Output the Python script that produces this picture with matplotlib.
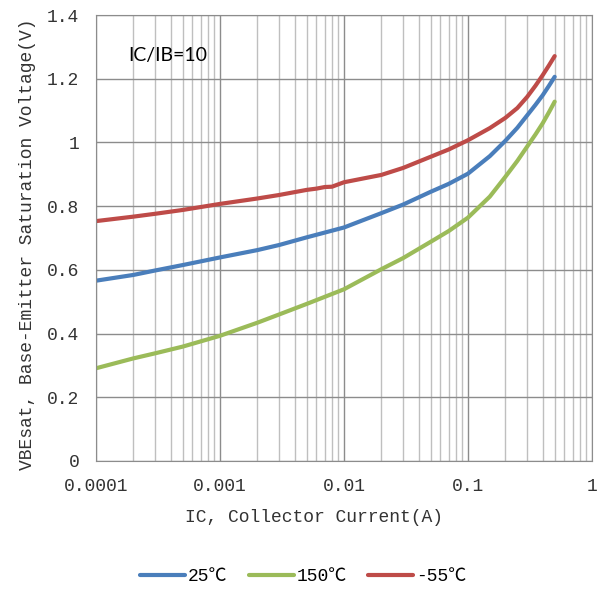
import numpy as np
import matplotlib
matplotlib.use("Agg")
import matplotlib.pyplot as plt

plt.rcParams['font.family'] = ['Liberation Mono', 'Noto Sans CJK SC', 'DejaVu Sans']

# values (IC in A, VBEsat in V)
ic_25 = [1e-4, 2e-4, 3e-4, 5e-4, 1e-3, 2e-3, 3e-3, 5e-3, 1e-2, 2e-2, 3e-2, 5e-2, 7e-2,
         0.1, 0.15, 0.2, 0.25, 0.3, 0.35, 0.4, 0.45, 0.5]
vbe_25 = [0.566, 0.584, 0.598, 0.615, 0.639, 0.662, 0.678, 0.702, 0.733, 0.778, 0.805, 0.845, 0.870,
          0.902, 0.957, 1.005, 1.046, 1.085, 1.118, 1.148, 1.178, 1.206]

ic_150 = [1e-4, 2e-4, 3e-4, 5e-4, 1e-3, 2e-3, 3e-3, 5e-3, 1e-2, 2e-2, 3e-2, 5e-2, 7e-2,
          0.1, 0.15, 0.2, 0.25, 0.3, 0.35, 0.4, 0.45, 0.5]
vbe_150 = [0.291, 0.322, 0.338, 0.359, 0.393, 0.434, 0.460, 0.493, 0.539, 0.602, 0.637, 0.688, 0.722,
           0.764, 0.830, 0.892, 0.942, 0.987, 1.025, 1.060, 1.095, 1.128]

ic_m55 = [1e-4, 2e-4, 3e-4, 5e-4, 1e-3, 2e-3, 3e-3, 5e-3, 6e-3, 7e-3, 8e-3, 1e-2, 2e-2, 3e-2,
          5e-2, 7e-2, 0.1, 0.15, 0.2, 0.25, 0.3, 0.35, 0.4, 0.45, 0.5]
vbe_m55 = [0.753, 0.767, 0.776, 0.788, 0.807, 0.824, 0.835, 0.851, 0.855, 0.860, 0.861, 0.875, 0.898, 0.920,
           0.955, 0.978, 1.007, 1.045, 1.077, 1.108, 1.143, 1.178, 1.211, 1.242, 1.271]

labels = ['25℃', '150℃', '-55℃']
colors = ['#4A7EBB', '#9BBB59', '#BE4B48']

fig = plt.figure(figsize=(6.06, 5.91), dpi=100)
ax = fig.add_axes([0.1584, 0.22, 0.8185, 0.7546])

for x, y, c, lab in zip([ic_25, ic_150, ic_m55], [vbe_25, vbe_150, vbe_m55], colors, labels):
    ax.plot(x, y, color=c, lw=3, label=lab, solid_capstyle='round', solid_joinstyle='round')

ax.set_xscale('log')
ax.set_xlim(1e-4, 1)
ax.set_ylim(0, 1.4)
ax.set_yticks(np.arange(0, 1.41, 0.2))
ax.set_yticklabels(['0', '0.2', '0.4', '0.6', '0.8', '1', '1.2', '1.4'])
ax.set_xticks([1e-4, 1e-3, 1e-2, 0.1, 1])
ax.set_xticklabels(['0.0001', '0.001', '0.01', '0.1', '1'])
ax.xaxis.set_minor_locator(matplotlib.ticker.LogLocator(base=10, subs=np.arange(2, 10)))
ax.xaxis.set_minor_formatter(matplotlib.ticker.NullFormatter())

ax.grid(True, which='major', color='#8c8c8c', lw=1)
ax.grid(True, which='minor', axis='x', color='#bfbfbf', lw=1)
ax.set_axisbelow(True)
for s in ax.spines.values():
    s.set_color('#8c8c8c')
ax.tick_params(which='both', length=0, pad=12, labelsize=13, colors='#333333')

ax.set_xlabel('IC, Collector Current(A)', fontsize=13, labelpad=10, x=0.44, color='#333333')
ax.set_ylabel('VBEsat, Base-Emitter Saturation Voltage(V)', fontsize=13, labelpad=8,
              y=0.485, color='#333333')

ax.text(0.065, 0.91, 'IC/IB=10', transform=ax.transAxes, fontsize=14,
        family=['Lato', 'DejaVu Sans'], va='center')

fig.legend(loc='lower center', bbox_to_anchor=(0.5, -0.018), ncol=3, frameon=False,
           fontsize=13, handlelength=2.5, handletextpad=0.15, columnspacing=1.2)

fig.savefig('out.png', dpi=100)
